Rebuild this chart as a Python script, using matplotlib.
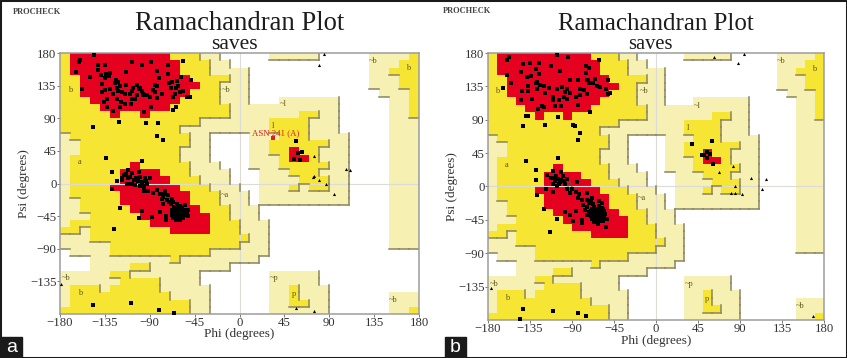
import numpy as np
import matplotlib
matplotlib.use("Agg")
import matplotlib.pyplot as plt
from matplotlib.colors import ListedColormap
from matplotlib.patches import Rectangle

plt.rcParams["font.family"] = ["Liberation Serif", "DejaVu Serif"]

# === region map, 10 degree cells: row 0 is psi 170..180, column 0 is phi -180..-170 ===
generous = {
    0: [(14, 15), (21, 25), (31, 34)], 1: [(15, 16), (31, 33)], 2: [(15, 18), (31, 32)],
    3: [(17, 18), (31, 33)], 4: [(16, 18), (31, 33)], 5: [(16, 18), (32, 34)],
    6: [(16, 18), (22, 27), (33, 34)], 7: [(17, 27), (33, 34)], 8: [(17, 27), (33, 34)],
    9: [(14, 27), (33, 35)], 10: [(12, 27), (33, 35)], 11: [(0, 0), (13, 14), (19, 28), (33, 35)],
    12: [(0, 1), (13, 14), (19, 28), (33, 35)], 13: [(0, 1), (12, 14), (19, 28), (33, 35)],
    14: [(0, 0), (12, 14), (19, 28), (33, 35)], 15: [(0, 0), (13, 15), (19, 28), (33, 35)],
    16: [(0, 0), (13, 16), (20, 28), (33, 35)], 17: [(0, 0), (14, 16), (20, 28), (33, 35)],
    18: [(0, 0), (15, 17), (20, 28), (33, 35)], 19: [(0, 0), (16, 18), (20, 28), (33, 35)],
    20: [(0, 1), (16, 18), (20, 28), (33, 35)], 21: [(0, 1), (17, 19), (33, 35)],
    22: [(0, 2), (17, 19), (33, 35)], 23: [(0, 0), (18, 20), (33, 35)],
    24: [(2, 2), (18, 20), (33, 35)], 25: [(0, 2), (19, 20), (33, 35)],
    26: [(0, 4), (18, 20), (33, 35)], 27: [(1, 4), (15, 20)], 28: [(3, 10), (12, 19)],
    29: [(3, 6), (9, 16)], 30: [(0, 4), (7, 13), (21, 25)], 31: [(0, 5), (10, 13), (21, 25)],
    32: [(0, 0), (4, 4), (10, 14), (21, 26)], 33: [(0, 0), (11, 14), (21, 26), (33, 35)],
    34: [(0, 0), (13, 14), (21, 26), (33, 35)], 35: [(13, 14), (21, 26), (33, 34)],
}
allowed = {
    0: [(0, 13), (35, 35)], 1: [(0, 14), (34, 35)], 2: [(0, 14), (33, 35)], 3: [(0, 16), (34, 35)],
    4: [(0, 15), (34, 35)], 5: [(0, 15), (35, 35)], 6: [(0, 15), (35, 35)], 7: [(0, 16), (35, 35)],
    8: [(0, 16), (24, 25), (35, 35)], 9: [(0, 13), (21, 24)], 10: [(0, 11), (21, 24)],
    11: [(1, 12), (22, 24)], 12: [(2, 12), (21, 26)], 13: [(2, 11), (21, 25)],
    14: [(1, 11), (22, 25)], 15: [(1, 12), (22, 26)], 16: [(1, 12), (23, 25)],
    17: [(1, 13), (24, 26)], 18: [(1, 14), (23, 23), (25, 26)], 19: [(1, 15)], 20: [(2, 15)],
    21: [(2, 16)], 22: [(3, 16)], 23: [(1, 17)], 24: [(0, 1), (3, 17)], 25: [(3, 18)],
    26: [(5, 17)], 27: [(5, 14)], 28: [(11, 11)], 29: [(7, 8)], 30: [(5, 6)], 31: [(6, 9)],
    32: [(1, 3), (5, 9), (23, 23)], 33: [(1, 10), (23, 23)], 34: [(1, 12), (23, 24)],
    35: [(0, 12), (35, 35)],
}
core = {
    0: [(1, 10)], 1: [(1, 11)], 2: [(1, 11)], 3: [(2, 12)], 4: [(2, 13)], 5: [(2, 12)],
    6: [(3, 11)], 7: [(4, 10)], 8: [(5, 5), (8, 8)], 13: [(23, 23)], 14: [(23, 24)],
    15: [(7, 7)], 16: [(6, 9)], 17: [(6, 10)], 18: [(5, 11)], 19: [(6, 12)], 20: [(6, 12)],
    21: [(7, 13)], 22: [(8, 14)], 23: [(9, 14)], 24: [(11, 14)],
}

region_names = ["B", "b", "a", "A", "~b", "~a", "~l", "l", "L", "~b", "b", "~p", "p", "~b", "~b", "b"]
region_phi = [-160, -170, -160, -92, -13, -15, 44, 34, 53, 134, 169, 35, 55, 154, -174, -160]
region_psi = [168, 129, 29, 2, 129, -16, 109, 79, 44, 169, 159, -131, -152, -161, -131, -151]

# === residues, panel a ===
a_phi = [-160, -161, -164, -146, -142, -135, -142, -150, -139, -134, -130, -131, -135, -138, -158,
         -114, -108, -98, -89, -83, -72, -57, -72, -81, -59, -49, -63, -68, -71, -62, -69, -64, -57,
         -60, -65, -67, -53, -50, -64, -67, -124, -122, -125, -120, -114, -103, -100, -107, -98, -85,
         -83, -87, -85, -130, -135, -138, -123, -122, -118, -115, -127, -108, -110, -103, -97, -93,
         -90, -83, -78, -133, -136, -123, -119, -120, -115, -108, -105, -109, -133, -127, -96, -89,
         -97, -101, -121, -147, -94, -82, -83, -77, -98, -134, -128, -123, -128,
         -112, -101, -114, -110, -118, -112, -104, -112, -105, -100, -95, -98, -93, -90, -97, -96, -92,
         -83, -80, -75, -77, -72, -73, -68, -77, -67, -63, -55, -65, -52, -58, -68, -55, -53, -52, -67,
         -63, -60, -57, -68, -65, -62, -58, -63, -60, -67, -63, -60, -62, -65, -58, -120, -98, -101,
         -88, -80, -74, -74, -126, -147, -109, -81, -66, 57, 59, 63, 55, 61,
         -66, -64, -61, -58, -56, -66, -64, -61, -59, -56, -66, -62, -59, -57, -64, -61, -55, -68,
         -62, -60, -66, -116, -108, -106, -118, -102, -100, -108, -113, -96, -94, -87, -78, -76, -71, -69]
a_psi = [171, 167, 154, 177, 163, 163, 157, 147, 149, 151, 152, 148, 145, 137, 130,
         154, 168, 164, 167, 155, 163, 169, 151, 145, 147, 143, 142, 140, 138, 134, 132, 132, 128,
         126, 123, 119, 120, 120, 106, 101, 143, 140, 138, 135, 136, 136, 132, 132, 128, 136,
         134, 129, 126, 131, 129, 126, 132, 128, 126, 124, 124, 128, 124, 122, 124, 122,
         119, 118, 123, 116, 112, 116, 112, 106, 110, 117, 117, 110, 105, 100, 98, 106,
         122, 131, 85, 78, 83, 83, 65, 60, 31, 35, 16, 4, -8,
         18, 16, 13, 9, 5, 7, 8, -1, -2, 9, 7, 2, 0, 7, -4, -10, -10,
         -9, -14, -11, -18, -16, -23, -21, -28, -25, -28, -29, -32, -36, -33, -37, -37, -41, -45, -41,
         -39, -39, -41, -44, -46, -44, -46, -48, -50, -48, -42, -42, -37, -39, -38, -34, -38, -47,
         -46, -39, -51, -45, -63, -168, -165, -175, -179, 59, 42, 44, 34, 33,
         -38, -36, -35, -36, -39, -42, -44, -40, -44, -44, -46, -47, -48, -47, -50, -46, -42, -41,
         -33, -31, -34, 12, 14, 5, 8, 3, -3, 0, -1, -5, 3, -13, -22, -15, -26, -28]
a_gly_phi = [85, 80, 75, 107, 111, 75, 74, 80, 87, 95, 57, 75, -179]
a_gly_psi = [178, 163, 38, 20, 18, 11, 9, 5, 0, -15, -172, -176, -139]
asn_phi = [34]
asn_psi = [63]

# === residues, panel b ===
b_phi = [-158, -160, -160, -155, -164, -142, -135, -125, -106, -94, -112, -103, -145, -129, -125,
         -138, -134, -75, -72, -75, -61, -92, -84, -74, -73, -65, -51, -72, -67, -63, -60, -54, -49,
         -51, -127, -129, -124, -120, -115, -137, -144, -137, -128, -119, -106, -101, -95, -97, -92,
         -81, -77, -74, -81, -86, -99, -95, -110, -145, -133, -110, -104, -108, -102, -84, -122,
         -126, -120, -71, -139, -137, -105, -143, -119, -89, -87, -81, -84, -105, -139, -129,
         -129, -127, -120, -106, -114, -117, -110, -102, -113, -108, -104, -99, -95, -102, -106, -85,
         -118, -110, -95, -92, -86, -74, -84, -79, -74, -69, -61, -58, -72, -67, -61, -74, -69, -56,
         -54, -52, -97, -92, -86, -89, -79, -79, -54, -74, -70, -69, -65, -61, -58, -70, -66, -63,
         -59, -56, -69, -65, -61, -58, -66, -62, -64, -60, -68, -143, -146, -110, -84, -75,
         39, 60, 55, 51, 49, 58, 55, 61,
         -67, -63, -66, -63, -60, -57, -55, -60, -70, -68, -64, -60, -57, -62, -66, -72, -62, -58,
         -105, -100, -108, -103, -98, -110, -107, -90, -82, -78, -70, -66, -76, -57]
b_psi = [175, 170, 151, 140, 133, 165, 166, 167, 177, 174, 162, 156, 155, 158, 152,
         148, 149, 162, 160, 153, 171, 143, 143, 144, 144, 145, 144, 139, 140, 136, 134, 132, 126,
         125, 141, 139, 137, 135, 133, 136, 129, 129, 131, 126, 132, 134, 132, 128, 126,
         132, 130, 125, 123, 121, 121, 118, 121, 117, 118, 116, 117, 109, 109, 110, 109,
         105, 107, 100, 95, 95, 94, 81, 83, 83, 81, 72, 63, 39, 35, 22,
         9, -11, -31, -44, -61, 16, 21, 19, 12, 7, 3, 7, 10, 9, 0, 6,
         -3, -8, -4, -9, -8, -9, -15, -18, -18, -15, -20, -22, -22, -24, -26, -27, -30, -33,
         -44, -44, -35, -38, -33, -46, -45, -49, -55, -38, -33, -36, -33, -36, -38, -40, -40, -40,
         -42, -40, -44, -44, -44, -44, -48, -49, -36, -40, -38, -165, -179, -168, -170, -175,
         57, 61, 47, 42, 42, 44, 38, 31,
         -34, -38, -43, -46, -47, -42, -37, -33, -37, -42, -42, -38, -46, -51, -46, -35, -30, -29,
         10, 14, 12, 6, 3, 3, 14, -3, -10, -25, -20, -28, -32, -31]
b_gly_phi = [62, 94, 88, 82, 68, 102, 118, 85, 114, 80, 85, 92, 168, -177]
b_gly_psi = [175, 178, 166, 27, 20, 12, 10, 0, -3, -9, -9, -10, -175, -137]

x_tick_values = [-180, -135, -90, -45, 0, 45, 90, 135, 180]
y_tick_values = [-135, -90, -45, 0, 45, 90, 135, 180]
cell_edges = np.arange(-180, 181, 10)


def build_grid():
    grid = np.zeros((36, 36), dtype=int)
    for level, spans in enumerate([generous, allowed, core], start=1):
        for row, parts in spans.items():
            for first, last in parts:
                grid[row, first:last + 1] = level
    return grid


def draw_shadows(ax, grid):
    # dark edge on the lower and right side of every block, none for the red
    shade = np.minimum(grid, 2)
    for row in range(36):
        for col in range(36):
            left, right = cell_edges[col], cell_edges[col + 1]
            top, bottom = 180 - row * 10, 170 - row * 10
            if shade[row, col] == 0:
                continue
            if col < 35 and shade[row, col + 1] < shade[row, col]:
                ax.plot([right, right], [top, bottom], color="#8a8460", lw=1.1, zorder=2,
                        solid_capstyle="projecting")
            if row < 35 and shade[row + 1, col] < shade[row, col]:
                ax.plot([left, right], [bottom, bottom], color="#8a8460", lw=1.1, zorder=2,
                        solid_capstyle="projecting")


def draw_panel(box, phi, psi, gly_phi, gly_psi, title_size, saves_size, saves_x, xlabel_pad):
    left, right, top, bottom = box
    ax = fig.add_axes([left / W, 1 - bottom / H, (right - left) / W, (bottom - top) / H])
    grid = build_grid()
    cmap = ListedColormap(["#ffffff", "#f7f0b3", "#f6e532", "#e60020"])
    ax.pcolormesh(cell_edges, cell_edges[::-1], grid, cmap=cmap, vmin=0, vmax=3, zorder=1)
    ax.axhline(0, color="#dcdcd4", lw=0.8, zorder=1.5)
    ax.axvline(0, color="#dcdcd4", lw=0.8, zorder=1.5)
    draw_shadows(ax, grid)

    for name, x, y in zip(region_names, region_phi, region_psi):
        ax.text(x, y, name, fontsize=6, color="#5c5620", ha="center", va="center", zorder=2.5)

    ax.scatter(phi, psi, marker="s", s=7, color="black", linewidths=0, zorder=3, clip_on=False)
    ax.scatter(gly_phi, gly_psi, marker="^", s=5, color="black", linewidths=0, zorder=3, clip_on=False)

    ax.set_xlim(-180, 180)
    ax.set_ylim(-180, 180)
    ax.set_xticks(x_tick_values)
    ax.set_yticks(y_tick_values)
    ax.tick_params(labelsize=9.2, length=2, width=0.7, color="#777777", labelcolor="#333333", pad=0.5)
    for spine in ["top", "right", "bottom", "left"]:
        ax.spines[spine].set_color("#9c9c9c")
        ax.spines[spine].set_linewidth(1.1)
    ax.set_xlabel("Phi (degrees)", fontsize=9.5, color="#333333", labelpad=xlabel_pad)
    ax.set_ylabel("Psi (degrees)", fontsize=9.5, color="#333333", labelpad=0)
    center = (left + right) / 2 / W
    fig.text(center, 1 - 23.5 / H, "Ramachandran Plot", fontsize=title_size, ha="center", va="center", color="#1c1c1c")
    fig.text(saves_x / W, 1 - 44.5 / H, "saves", fontsize=saves_size, ha="center", va="center", color="#1c1c1c")
    return ax


W, H = 847, 358
fig = plt.figure(figsize=(W / 100, H / 100), dpi=100, facecolor="white")

ax_a = draw_panel((60, 419, 53, 314), a_phi, a_psi, a_gly_phi, a_gly_psi, 19.2, 15.5, 234, -1)
ax_b = draw_panel((488, 824, 53, 320), b_phi, b_psi, b_gly_phi, b_gly_psi, 17.9, 14.8, 650.5, 0)

ax_a.scatter(asn_phi, asn_psi, marker="s", s=5, color="#e02020", linewidths=0, zorder=3)
ax_a.text(36, 69, "ASN 241 (A)", fontsize=6.3, color="#e02020", ha="center", va="center", zorder=4)

fig.text(13 / W, 1 - 12.5 / H, "PROCHECK", fontsize=6, color="#444444", weight="bold", va="center")
fig.text(443 / W, 1 - 11 / H, "PROCHECK", fontsize=6, color="#444444", weight="bold", va="center")

# === outer frame and the panel letters ===
fig.add_artist(Rectangle((0, 0), 1, 1, transform=fig.transFigure, fill=False, edgecolor="#1a1a1a", lw=2.2))
for x0, letter in [(1, "a"), (445, "b")]:
    fig.add_artist(Rectangle((x0 / W, 1 / H), 21 / W, 20 / H, transform=fig.transFigure, color="#1a1a1a"))
    fig.text((x0 + 10.5) / W, 11 / H, letter, color="white", fontsize=14, ha="center", va="center",
             family="Liberation Sans")

fig.savefig("out.png", dpi=100)
